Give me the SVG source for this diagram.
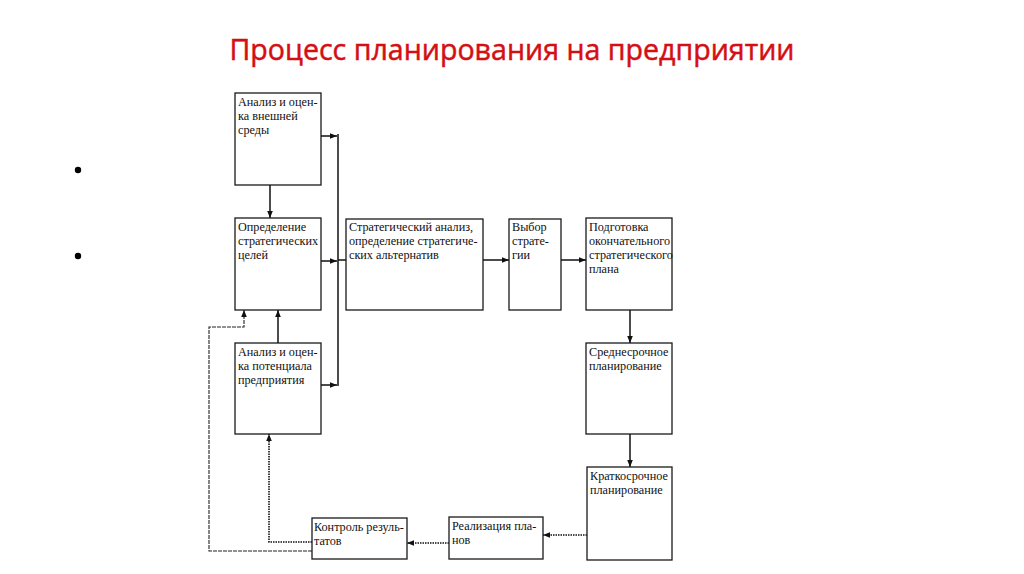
<svg xmlns="http://www.w3.org/2000/svg" width="1024" height="574" viewBox="0 0 1024 574">
<style>
.box{fill:#fff;stroke:#1a1a1a;stroke-width:1.3}
.t{font-family:"Liberation Serif","Times New Roman",serif;font-size:12.2px;fill:#111}
.ln{fill:none;stroke:#111;stroke-width:1.5}
.dot{fill:none;stroke:#111;stroke-width:1.6;stroke-dasharray:1.5 1}
.dash{fill:none;stroke:#222;stroke-width:1.1;stroke-dasharray:4 1}
.title{font-family:"Open Sans","Liberation Sans",sans-serif;font-size:29px;fill:#d40f14;stroke:#d40f14;stroke-width:0.5}
</style>
<defs>
<marker id="ah" viewBox="0 0 10 10" refX="10" refY="5" markerWidth="7" markerHeight="7" markerUnits="userSpaceOnUse" orient="auto">
<path d="M0,1 L10,5 L0,9 z" fill="#111"/>
</marker>
</defs>
<rect width="1024" height="574" fill="#fff"/>
<text class="title" x="512" y="60" text-anchor="middle" textLength="565" lengthAdjust="spacingAndGlyphs">Процесс планирования на предприятии</text>
<circle cx="78" cy="170" r="3.2" fill="#000"/>
<circle cx="78" cy="256" r="3.2" fill="#000"/>

<g id="connectors">
<path class="ln" d="M321,136 H337" marker-end="url(#ah)"/>
<path class="ln" d="M321,261 H337" marker-end="url(#ah)"/>
<path class="ln" d="M321,385 H337" marker-end="url(#ah)"/>
<path class="ln" d="M338,134 V386"/>
<path class="ln" d="M338,260 H346"/>
<path class="ln" d="M270,185 V218" marker-end="url(#ah)"/>
<path class="ln" d="M278,343 V310" marker-end="url(#ah)"/>
<path class="ln" d="M483,260 H509" marker-end="url(#ah)"/>
<path class="ln" d="M561,260 H586" marker-end="url(#ah)"/>
<path class="ln" d="M630,310 V343" marker-end="url(#ah)"/>
<path class="ln" d="M630,434 V467" marker-end="url(#ah)"/>
<path class="dot" d="M587,535 H543" marker-end="url(#ah)"/>
<path class="dot" d="M449,543 H407" marker-end="url(#ah)"/>
<path class="dot" d="M312,542 H269 V434" marker-end="url(#ah)"/>
<path class="dash" d="M312,551 H209 V327 H244 V310" marker-end="url(#ah)"/>
</g>

<g id="n1">
<rect class="box" x="235" y="93" width="86" height="92"/>
<text class="t" x="238" y="106">Анализ и оцен-</text>
<text class="t" x="238" y="120">ка внешней</text>
<text class="t" x="238" y="134">среды</text>
</g>
<g id="n2">
<rect class="box" x="235" y="218" width="86" height="92"/>
<text class="t" x="238" y="231">Определение</text>
<text class="t" x="238" y="245">стратегических</text>
<text class="t" x="238" y="259">целей</text>
</g>
<g id="n3">
<rect class="box" x="235" y="343" width="86" height="91"/>
<text class="t" x="238" y="356">Анализ и оцен-</text>
<text class="t" x="238" y="370">ка потенциала</text>
<text class="t" x="238" y="384">предприятия</text>
</g>
<g id="n4">
<rect class="box" x="346" y="219" width="137" height="91"/>
<text class="t" x="349" y="231">Стратегический анализ,</text>
<text class="t" x="349" y="245">определение стратегиче-</text>
<text class="t" x="349" y="259">ских альтернатив</text>
</g>
<g id="n5">
<rect class="box" x="509" y="219" width="52" height="91"/>
<text class="t" x="512" y="231">Выбор</text>
<text class="t" x="512" y="245">страте-</text>
<text class="t" x="512" y="259">гии</text>
</g>
<g id="n6">
<rect class="box" x="586" y="218" width="86" height="92"/>
<text class="t" x="589" y="231">Подготовка</text>
<text class="t" x="589" y="245">окончательного</text>
<text class="t" x="589" y="259">стратегического</text>
<text class="t" x="589" y="273">плана</text>
</g>
<g id="n7">
<rect class="box" x="586" y="343" width="86" height="91"/>
<text class="t" x="589" y="356">Среднесрочное</text>
<text class="t" x="589" y="370">планирование</text>
</g>
<g id="n8">
<rect class="box" x="587" y="467" width="85" height="93"/>
<text class="t" x="590" y="480">Краткосрочное</text>
<text class="t" x="590" y="494">планирование</text>
</g>
<g id="n9">
<rect class="box" x="449" y="517" width="94" height="42"/>
<text class="t" x="452" y="530">Реализация пла-</text>
<text class="t" x="452" y="544">нов</text>
</g>
<g id="n10">
<rect class="box" x="312" y="518" width="95" height="41"/>
<text class="t" x="314" y="531">Контроль резуль-</text>
<text class="t" x="314" y="545">татов</text>
</g>
</svg>
